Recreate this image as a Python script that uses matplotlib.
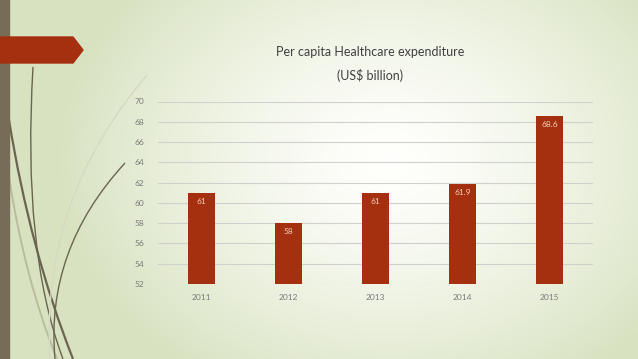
import numpy as np
import matplotlib.pyplot as plt
from matplotlib.path import Path
from matplotlib.patches import PathPatch, Polygon, Rectangle

years = ["2011", "2012", "2013", "2014", "2015"]
spend = [61, 58, 61, 61.9, 68.6]
y_ticks = [52, 54, 56, 58, 60, 62, 64, 66, 68, 70]

W, H = 638, 359
BAR = "#a5300f"

plt.rcParams['font.family'] = ['Lato', 'DejaVu Sans']
fig = plt.figure(figsize=(W / 100, H / 100), dpi=100)

# slide background: pale green with a light centre
bg = fig.add_axes([0, 0, 1, 1])
bg.set_xlim(0, W)
bg.set_ylim(H, 0)
bg.axis("off")
xx, yy = np.meshgrid(np.linspace(0, W, 320), np.linspace(0, H, 180))
d = np.sqrt(((xx - 390) / 330) ** 2 + ((yy - 160) / 260) ** 2)
t = np.clip(d, 0, 1) ** 1.4
white = np.array([1.0, 1.0, 0.99])
green = np.array([0.85, 0.89, 0.76])
img = white[None, None, :] * (1 - t[..., None]) + green[None, None, :] * t[..., None]
bg.imshow(img, extent=[0, W, H, 0], aspect="auto", zorder=0)

# decorative curves
curves = [
    ([(33, 67), (22, 250), (63, 359)], "#6b6450", 1.0),
    ([(9, 120), (30, 250), (73, 359)], "#6b6450", 1.6),
    ([(9, 177), (25, 280), (57, 359)], "#b9bc9f", 1.4),
    ([(147, 75), (40, 200), (50, 359)], "#d6d9c2", 1.0),
    ([(125, 163), (45, 250), (55, 359)], "#6b6450", 1.0),
]
for pts, col, lw in curves:
    p = Path(pts, [Path.MOVETO, Path.CURVE3, Path.CURVE3])
    bg.add_patch(PathPatch(p, fill=False, edgecolor=col, lw=lw, zorder=1))

bg.add_patch(Rectangle((0, 0), 9, H, color="#766c57", zorder=2))
bg.add_patch(Polygon([(0, 37), (73, 37), (83, 50), (73, 63), (0, 63)],
                     closed=True, color=BAR, zorder=3))

# chart
ax = fig.add_axes([158 / W, 1 - 284 / H, 435 / W, (284 - 101.5) / H])
ax.patch.set_alpha(0)
x = np.arange(len(years))
bars = ax.bar(x, spend, width=0.32, color=BAR, zorder=3)
for b, v in zip(bars, spend):
    ax.text(b.get_x() + b.get_width() / 2, v - 0.85, f"{v:g}",
            ha="center", va="center", fontsize=6, color="#f6cdb8", zorder=4)

ax.set_ylim(52, 70)
ax.set_xlim(-0.5, len(years) - 0.5)
ax.set_yticks(y_ticks)
ax.set_xticks(x)
ax.set_xticklabels(years)
ax.yaxis.grid(True, color="#d0d0cc", lw=0.8, zorder=0)
ax.tick_params(axis="both", length=0, labelsize=6, colors="#7a7a7a")
ax.tick_params(axis="y", pad=10)
ax.tick_params(axis="x", pad=7)
for s in ax.spines.values():
    s.set_visible(False)

fig.text(370 / W, 1 - 52 / H, "Per capita Healthcare expenditure",
         ha="center", va="center", fontsize=9, color="#404040")
fig.text(370 / W, 1 - 76 / H, "(US$ billion)",
         ha="center", va="center", fontsize=9, color="#404040")

fig.savefig("out.png", dpi=100)
